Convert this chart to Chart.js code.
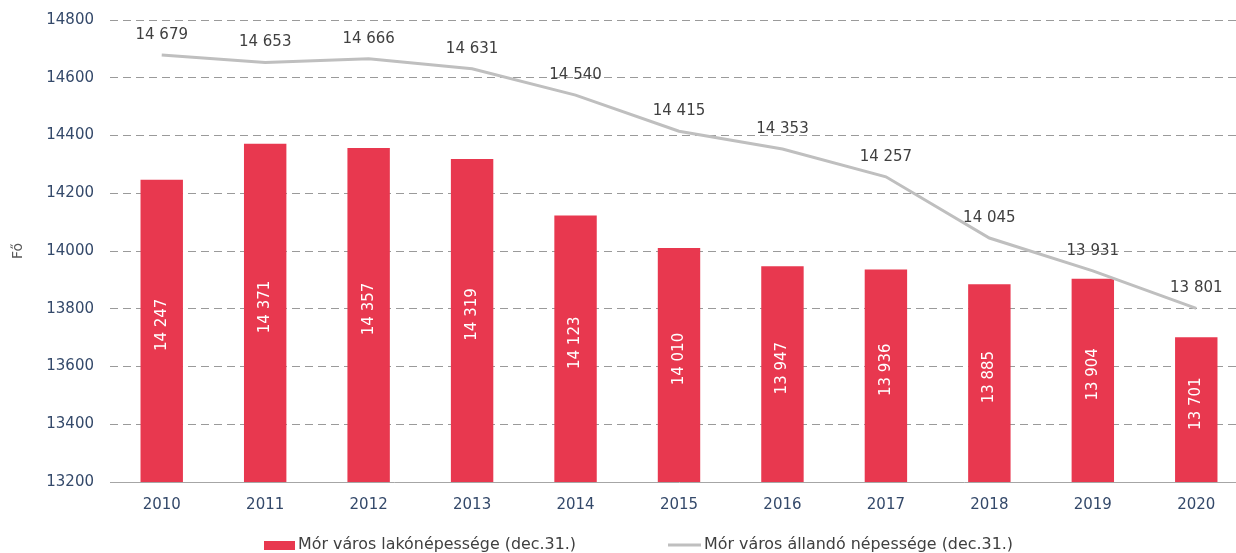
<!DOCTYPE html>
<html>
<head>
<meta charset="utf-8">
<script src="https://cdn.jsdelivr.net/npm/chart.js@4"></script>
<style>
  html, body { margin: 0; padding: 0; background: #fff; overflow: hidden; }
  #wrap { width: 1236px; height: 553px; overflow: hidden; }
</style>
</head>
<body>
<div id="wrap"><canvas id="chart" width="1250" height="553"></canvas></div>
<script>
const years = ['2010', '2011', '2012', '2013', '2014', '2015', '2016', '2017', '2018', '2019', '2020'];
const lakonepesseg = [14247, 14371, 14357, 14319, 14123, 14010, 13947, 13936, 13885, 13904, 13701];
const allando = [14679, 14653, 14666, 14631, 14540, 14415, 14353, 14257, 14045, 13931, 13801];

const RED = '#e8384f';
const GREY_LINE = '#bfbfbf';
const TICK_COLOR = '#34496a';
const LABEL_COLOR = '#404040';
const FONT = '"DejaVu Sans", Verdana, sans-serif';

function fmt(v) {
  return String(v).replace(/\B(?=(\d{3})+(?!\d))/g, ' ');
}

// value labels for bars (rotated, inside) and line (above points)
const value_labels = {
  id: 'value_labels',
  afterDatasetsDraw(chart) {
    const ctx = chart.ctx;
    const bottom = chart.chartArea.bottom;
    ctx.save();
    ctx.textAlign = 'center';
    ctx.textBaseline = 'middle';
    chart.getDatasetMeta(0).data.forEach((bar, i) => {
      const mid = (bar.y + bottom) / 2 - 6;
      ctx.save();
      ctx.translate(bar.x, mid);
      ctx.rotate(-Math.PI / 2);
      ctx.font = '15px ' + FONT;
      ctx.fillStyle = '#ffffff';
      ctx.fillText(fmt(lakonepesseg[i]), 0, 0);
      ctx.restore();
    });
    ctx.font = '15px ' + FONT;
    ctx.fillStyle = LABEL_COLOR;
    chart.getDatasetMeta(1).data.forEach((pt, i) => {
      ctx.fillText(fmt(allando[i]), pt.x, pt.y - 20);
    });
    ctx.restore();
  }
};

// fit legend text to the width it has in the original
function legend_text(ctx, text, x, y, width) {
  const w = ctx.measureText(text).width;
  ctx.save();
  ctx.translate(x, y);
  ctx.scale(width / w, 1);
  ctx.fillText(text, 0, 0);
  ctx.restore();
}

// legend drawn below the axis, like the original
const bottom_legend = {
  id: 'bottom_legend',
  afterDraw(chart) {
    const ctx = chart.ctx;
    const ds = chart.data.datasets;
    const y = 545;
    ctx.save();
    ctx.font = '15px ' + FONT;
    ctx.textBaseline = 'middle';
    ctx.textAlign = 'left';
    ctx.fillStyle = ds[0].backgroundColor;
    ctx.fillRect(264, y - 4, 31, 9);
    ctx.fillStyle = LABEL_COLOR;
    legend_text(ctx, ds[0].label, 298, y, 278);
    ctx.strokeStyle = ds[1].borderColor;
    ctx.lineWidth = 3;
    ctx.beginPath();
    ctx.moveTo(668, y);
    ctx.lineTo(701, y);
    ctx.stroke();
    legend_text(ctx, ds[1].label, 704, y, 309);
    ctx.restore();
  }
};

new Chart(document.getElementById('chart'), {
  data: {
    labels: years,
    datasets: [
      {
        type: 'bar',
        label: 'Mór város lakónépessége (dec.31.)',
        data: lakonepesseg,
        backgroundColor: RED,
        barPercentage: 0.41,
        categoryPercentage: 1,
        order: 2
      },
      {
        type: 'line',
        label: 'Mór város állandó népessége (dec.31.)',
        data: allando,
        borderColor: GREY_LINE,
        borderWidth: 3,
        pointRadius: 0,
        tension: 0,
        order: 1
      }
    ]
  },
  options: {
    responsive: false,
    animation: false,
    devicePixelRatio: 1,
    layout: { padding: { top: 20, right: 2, bottom: 31, left: 0 } },
    plugins: {
      legend: { display: false },
      tooltip: { enabled: false }
    },
    scales: {
      x: {
        grid: { display: false },
        border: { display: true, color: '#a6a6a6', width: 1 },
        ticks: { color: TICK_COLOR, font: { family: FONT, size: 15 }, padding: 6 },
        afterFit(scale) { scale.height = 40; }
      },
      y: {
        min: 13200,
        max: 14800,
        border: { display: false, dash: [8, 5] },
        grid: { color: '#9a9a9a', drawTicks: false, lineWidth: 1 },
        ticks: {
          stepSize: 200,
          color: TICK_COLOR,
          font: { family: FONT, size: 15 },
          padding: 16,
          callback: v => String(v)
        },
        title: {
          display: true,
          text: 'Fő',
          color: '#595959',
          font: { family: FONT, size: 14 },
          padding: { top: 10, bottom: 0 }
        },
        afterFit(scale) {
          scale.width = 110;
          scale.paddingTop = 0;
          scale.paddingBottom = 0;
        }
      }
    }
  },
  plugins: [value_labels, bottom_legend]
});
</script>
</body>
</html>
